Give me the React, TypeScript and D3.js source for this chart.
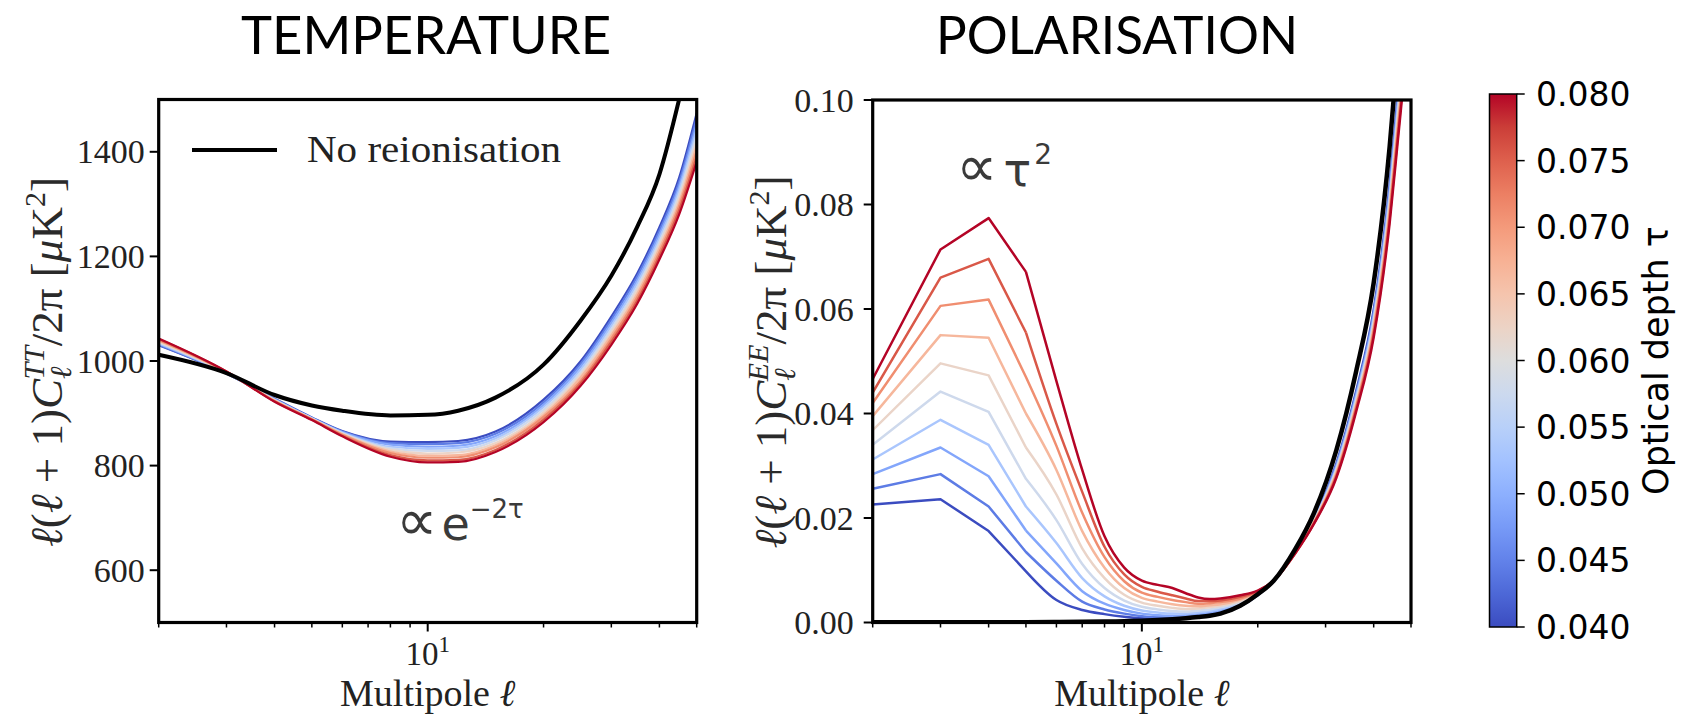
import React from 'react';
import * as d3 from 'd3';

// ---------- data ----------
const TAUS = [0.04, 0.0444, 0.0489, 0.0533, 0.0578, 0.0622, 0.0667, 0.0711, 0.0756, 0.08];

// Temperature spectrum, multipole grid
const TT_ELL = [2, 3, 4, 5, 6, 8, 10, 12, 15, 20, 25, 30, 35, 40, 45, 50];
const TT_NO_REION = [1012, 977, 935, 915, 905, 896, 897, 905, 930, 993, 1078, 1163, 1256, 1357, 1500, 1650];
// one row per tau (0.040 ... 0.080)
const TT_TAU_SERIES = [
  [1030, 976, 928, 892, 866, 846, 845, 847, 865, 926, 1000, 1085, 1167, 1256, 1350, 1474],
  [1031, 976, 927, 891, 865, 843, 841, 843, 861, 921, 995, 1079, 1161, 1249, 1342, 1464],
  [1033, 977, 927, 891, 864, 840, 836, 838, 856, 916, 990, 1073, 1154, 1242, 1334, 1453],
  [1034, 977, 926, 890, 863, 836, 832, 834, 852, 912, 984, 1067, 1148, 1235, 1327, 1443],
  [1036, 978, 925, 890, 862, 833, 828, 829, 848, 907, 979, 1061, 1141, 1228, 1319, 1433],
  [1037, 978, 925, 889, 861, 830, 823, 825, 843, 902, 974, 1055, 1135, 1222, 1311, 1422],
  [1039, 979, 924, 889, 860, 827, 819, 820, 839, 897, 969, 1049, 1128, 1215, 1303, 1412],
  [1040, 979, 923, 888, 859, 824, 815, 816, 835, 893, 963, 1043, 1122, 1208, 1296, 1402],
  [1042, 980, 923, 888, 857, 820, 810, 811, 830, 888, 958, 1037, 1115, 1201, 1288, 1391],
  [1043, 980, 922, 887, 856, 817, 806, 807, 826, 883, 953, 1031, 1109, 1194, 1280, 1381],
];

// Polarisation spectrum, multipole grid
const EE_ELL = [2, 3, 4, 5, 6, 7, 8, 9, 10, 11, 12, 13, 14, 15, 16, 18, 20, 22, 25, 28, 32, 36, 40, 44, 46, 48, 50];
const EE_NO_REION = [0.00005, 0.00005, 0.00006, 0.00007, 0.00009, 0.00012, 0.00017, 0.00025, 0.00035, 0.00048, 0.00064, 0.00083, 0.00105, 0.0013, 0.0017, 0.0032, 0.0054, 0.008, 0.014, 0.021, 0.033, 0.048, 0.065, 0.091, 0.108, 0.125, 0.145];
// one row per multipole, columns = tau 0.040 ... 0.080
const EE_BY_ELL = [
  [0.0226, 0.0256, 0.0284, 0.0312, 0.034, 0.0368, 0.0395, 0.042, 0.044, 0.0466],
  [0.0236, 0.0284, 0.0335, 0.0388, 0.0442, 0.0496, 0.055, 0.0606, 0.066, 0.0714],
  [0.0175, 0.0222, 0.028, 0.034, 0.0403, 0.0473, 0.0545, 0.0618, 0.0696, 0.0774],
  [0.0098, 0.0135, 0.0176, 0.0222, 0.0275, 0.0335, 0.04, 0.047, 0.0555, 0.0671],
  [0.0043, 0.008, 0.0113, 0.0152, 0.0196, 0.0245, 0.0292, 0.0338, 0.038, 0.0462],
  [0.0024, 0.004, 0.006, 0.0085, 0.0112, 0.0142, 0.0175, 0.021, 0.025, 0.0292],
  [0.0016, 0.0025, 0.0036, 0.005, 0.0066, 0.0085, 0.0105, 0.0125, 0.0145, 0.0165],
  [0.0011, 0.0017, 0.0024, 0.0032, 0.0042, 0.0053, 0.0066, 0.0079, 0.0092, 0.0105],
  [0.0008, 0.0012, 0.0017, 0.0023, 0.003, 0.0038, 0.0047, 0.0057, 0.0068, 0.008],
  [0.0007, 0.001, 0.0014, 0.0019, 0.0025, 0.0032, 0.004, 0.0049, 0.0059, 0.0072],
  [0.0007, 0.001, 0.0013, 0.0017, 0.0022, 0.0028, 0.0035, 0.0043, 0.0052, 0.0066],
  [0.0008, 0.0011, 0.0014, 0.0017, 0.0021, 0.0026, 0.0032, 0.0039, 0.0046, 0.0056],
  [0.001, 0.0013, 0.0016, 0.0019, 0.0023, 0.0027, 0.0031, 0.0036, 0.0041, 0.0048],
  [0.0013, 0.0016, 0.0019, 0.0022, 0.0025, 0.0029, 0.0033, 0.0037, 0.0041, 0.0045],
  [0.0017, 0.002, 0.0023, 0.0026, 0.0029, 0.0032, 0.0035, 0.0039, 0.0042, 0.0046],
  [0.0031, 0.0033, 0.0035, 0.0037, 0.0039, 0.0041, 0.0044, 0.0046, 0.0049, 0.0052],
  [0.0052, 0.0053, 0.0054, 0.0055, 0.0056, 0.0057, 0.0058, 0.0059, 0.006, 0.0061],
  [0.0079, 0.0079, 0.0079, 0.0079, 0.0079, 0.008, 0.008, 0.008, 0.008, 0.008],
  [0.0136, 0.0136, 0.0135, 0.0135, 0.0134, 0.0134, 0.0133, 0.0133, 0.0132, 0.0132],
  [0.0198, 0.0197, 0.0196, 0.0195, 0.0194, 0.0193, 0.0192, 0.0191, 0.019, 0.0189],
  [0.0304, 0.0301, 0.0298, 0.0295, 0.0292, 0.0289, 0.0286, 0.0283, 0.028, 0.0277],
  [0.0442, 0.0437, 0.0433, 0.0429, 0.0424, 0.042, 0.0416, 0.0412, 0.0408, 0.0403],
  [0.0598, 0.0592, 0.0586, 0.058, 0.0575, 0.0569, 0.0564, 0.0558, 0.0552, 0.0546],
  [0.0837, 0.0829, 0.0821, 0.0813, 0.0804, 0.0797, 0.0789, 0.0781, 0.0773, 0.0764],
  [0.0994, 0.0984, 0.0974, 0.0964, 0.0955, 0.0946, 0.0936, 0.0927, 0.0917, 0.0907],
  [0.115, 0.114, 0.113, 0.112, 0.11, 0.109, 0.108, 0.107, 0.106, 0.105],
  [0.133, 0.132, 0.131, 0.129, 0.128, 0.127, 0.126, 0.124, 0.123, 0.122],
];

const TT_Y_TICKS = [600, 800, 1000, 1200, 1400];
const EE_Y_TICKS = [0, 0.02, 0.04, 0.06, 0.08, 0.1];
const EE_Y_LABELS = ['0.00', '0.02', '0.04', '0.06', '0.08', '0.10'];
const CBAR_TICKS = [0.04, 0.045, 0.05, 0.055, 0.06, 0.065, 0.07, 0.075, 0.08];
const CBAR_LABELS = ['0.040', '0.045', '0.050', '0.055', '0.060', '0.065', '0.070', '0.075', '0.080'];

// coolwarm colormap stops
const COOLWARM = [
  '#3b4cc0', '#4d68d7', '#6282ea', '#779af7', '#8db0fe', '#a3c2ff', '#b8d0f9', '#ccd9ee',
  '#dddddd', '#ecd3c5', '#f5c4ad', '#f7b194', '#f49a7b', '#ec7f63', '#de604d', '#cb3e38', '#b40426',
];

// ---------- layout ----------
const W = 1682;
const H = 720;
const LP = { x0: 158.7, x1: 696.7, y0: 99.5, y1: 622.5 };
const RP = { x0: 872.7, x1: 1411, y0: 100, y1: 622.5 };
const CB = { x0: 1489.5, x1: 1516.7, y0: 94, y1: 627 };

const SERIF = '"Liberation Serif", "Times New Roman", serif';
const SANS = '"DejaVu Sans", sans-serif';
const INK = '#222';

const cmap = d3.piecewise(d3.interpolateRgb, COOLWARM);
const tauNorm = d3.scaleLinear().domain([0.04, 0.08]).range([0, 1]);

function Axes({ P, xs, ys, yTicks, yLabels, pad }: any) {
  const xt = xs.ticks();
  return (
    <g>
      {yTicks.map((v: number, i: number) => (
        <g key={'y' + i}>
          <line x1={P.x0 - 9} x2={P.x0} y1={ys(v)} y2={ys(v)} stroke="#000" strokeWidth={2} />
          <text x={P.x0 - pad} y={ys(v) + 11.5} textAnchor="end" fontFamily={SERIF} fontSize={34} fill={INK}>
            {yLabels[i]}
          </text>
        </g>
      ))}
      {xt.map((v: number, i: number) => {
        const major = Math.abs(v - 10) < 1e-9;
        return (
          <line key={'x' + i} x1={xs(v)} x2={xs(v)} y1={P.y1} y2={P.y1 + (major ? 9 : 5)} stroke="#000" strokeWidth={major ? 2 : 1.5} />
        );
      })}
      <text x={xs(10)} y={665} textAnchor="middle" fontFamily={SERIF} fontSize={33} fill={INK}>
        <tspan>10</tspan>
        <tspan fontSize={23} dy={-13}>1</tspan>
      </text>
      <text x={(P.x0 + P.x1) / 2} y={706} textAnchor="middle" fontFamily={SERIF} fontSize={38} fill={INK}>
        Multipole <tspan fontStyle="italic">ℓ</tspan>
      </text>
      <rect x={P.x0} y={P.y0} width={P.x1 - P.x0} height={P.y1 - P.y0} fill="none" stroke="#000" strokeWidth={3.2} />
    </g>
  );
}

function YLabel({ x, y, sup }: any) {
  return (
    <text transform={`translate(${x},${y}) rotate(-90)`} textAnchor="middle" fontFamily={SERIF} fontSize={45} fill="#2a2a2a">
      <tspan fontStyle="italic">ℓ</tspan>
      <tspan>(</tspan>
      <tspan fontStyle="italic">ℓ</tspan>
      <tspan>{' + 1)'}</tspan>
      <tspan fontStyle="italic">C</tspan>
      <tspan fontStyle="italic" fontSize={30} dy={9}>ℓ</tspan>
      <tspan fontStyle="italic" fontSize={30} dx={-13} dy={-27}>{sup}</tspan>
      <tspan dy={18}>{'/2π ['}</tspan>
      <tspan fontStyle="italic">μ</tspan>
      <tspan>K</tspan>
      <tspan fontSize={30} dy={-17}>2</tspan>
      <tspan dy={17}>]</tspan>
    </text>
  );
}

export default function App() {
  const xL = d3.scaleLog().domain([2, 50]).range([LP.x0, LP.x1]);
  const yL = d3.scaleLinear().domain([500, 1500]).range([LP.y1, LP.y0]);
  const xR = d3.scaleLog().domain([2, 50]).range([RP.x0, RP.x1]);
  const yR = d3.scaleLinear().domain([0, 0.1]).range([RP.y1, RP.y0]);
  const yC = d3.scaleLinear().domain([0.04, 0.08]).range([CB.y1, CB.y0]);

  const ttLine = d3
    .line<number>()
    .x((_, i) => xL(TT_ELL[i]))
    .y((d) => yL(d))
    .curve(d3.curveMonotoneX);

  const eeLin = d3
    .line<[number, number]>()
    .x((d) => xR(d[0]))
    .y((d) => yR(d[1]))
    .curve(d3.curveLinear);
  const eeSmooth = d3
    .line<[number, number]>()
    .x((d) => xR(d[0]))
    .y((d) => yR(d[1]))
    .curve(d3.curveMonotoneX);
  const eePath = (vals: number[]) => {
    const pts: [number, number][] = EE_ELL.map((l, i) => [l, vals[i]]);
    return (eeLin(pts.filter((p) => p[0] <= 5)) || '') + (eeSmooth(pts.filter((p) => p[0] >= 5)) || '');
  };

  return (
    <svg width={W} height={H} style={{ position: 'absolute', left: 0, top: 0, background: '#fff' }}>
      <defs>
        <clipPath id="clipL">
          <rect x={LP.x0} y={LP.y0} width={LP.x1 - LP.x0} height={LP.y1 - LP.y0} />
        </clipPath>
        <clipPath id="clipR">
          <rect x={RP.x0} y={RP.y0} width={RP.x1 - RP.x0} height={RP.y1 - RP.y0} />
        </clipPath>
        <linearGradient id="cbar" x1="0" y1="1" x2="0" y2="0">
          {COOLWARM.map((c, i) => (
            <stop key={i} offset={i / (COOLWARM.length - 1)} stopColor={c} />
          ))}
        </linearGradient>
      </defs>
      <rect x={0} y={0} width={W} height={H} fill="#fff" />

      {/* titles */}
      <text x={426} y={54} textAnchor="middle" fontFamily="Lato, 'Open Sans', sans-serif" fontSize={53} textLength={370} lengthAdjust="spacingAndGlyphs" fill="#000">
        TEMPERATURE
      </text>
      <text x={1117} y={54} textAnchor="middle" fontFamily="Lato, 'Open Sans', sans-serif" fontSize={53} textLength={362} lengthAdjust="spacingAndGlyphs" fill="#000">
        POLARISATION
      </text>

      {/* left panel curves */}
      <g clipPath="url(#clipL)">
        {TT_TAU_SERIES.map((s, k) => (
          <path key={k} d={ttLine(s) || ''} fill="none" stroke={cmap(tauNorm(TAUS[k]))} strokeWidth={2.2} />
        ))}
        <path d={ttLine(TT_NO_REION) || ''} fill="none" stroke="#000" strokeWidth={4} />
      </g>
      <Axes P={LP} xs={xL} ys={yL} yTicks={TT_Y_TICKS} yLabels={TT_Y_TICKS.map(String)} pad={14} />
      <YLabel x={62} y={362} sup="TT" />

      {/* legend */}
      <line x1={192} x2={277} y1={150} y2={150} stroke="#000" strokeWidth={4} />
      <text x={307} y={162} fontFamily={SERIF} fontSize={37} textLength={254} lengthAdjust="spacingAndGlyphs" fill={INK}>
        No reionisation
      </text>

      {/* annotation left */}
      <text x={396} y={540} fontFamily={SANS} fill="#3a3a3a">
        <tspan fontSize={58}>∝</tspan>
        <tspan fontSize={46} dx={4}>e</tspan>
        <tspan fontSize={26} dy={-22}>−2τ</tspan>
      </text>

      {/* annotation right */}
      <text x={956} y={186} fontFamily={SANS} fill="#3a3a3a">
        <tspan fontSize={58}>∝</tspan>
        <tspan fontSize={46} dx={6}>τ</tspan>
        <tspan fontSize={28} dy={-22} dx={3}>2</tspan>
      </text>

      {/* right panel curves */}
      <g clipPath="url(#clipR)">
        {TAUS.map((t, k) => (
          <path key={k} d={eePath(EE_BY_ELL.map((r) => r[k]))} fill="none" stroke={cmap(tauNorm(t))} strokeWidth={2.5} strokeLinejoin="round" />
        ))}
        <path d={eePath(EE_NO_REION)} fill="none" stroke="#000" strokeWidth={4.5} />
      </g>
      <Axes P={RP} xs={xR} ys={yR} yTicks={EE_Y_TICKS} yLabels={EE_Y_LABELS} pad={19} />
      <YLabel x={786} y={362} sup="EE" />

      {/* colorbar */}
      <rect x={CB.x0} y={CB.y0} width={CB.x1 - CB.x0} height={CB.y1 - CB.y0} fill="url(#cbar)" stroke="#000" strokeWidth={1.5} />
      {CBAR_TICKS.map((v, i) => (
        <g key={i}>
          <line x1={CB.x1} x2={CB.x1 + 8} y1={yC(v)} y2={yC(v)} stroke="#000" strokeWidth={1.5} />
          <text x={1536} y={yC(v) + 12} fontFamily={SANS} fontSize={33} fill="#000">
            {CBAR_LABELS[i]}
          </text>
        </g>
      ))}
      <text transform={`translate(1668,${(CB.y0 + CB.y1) / 2}) rotate(-90)`} textAnchor="middle" fontFamily={SANS} fontSize={35} fill="#000">
        Optical depth τ
      </text>
    </svg>
  );
}
